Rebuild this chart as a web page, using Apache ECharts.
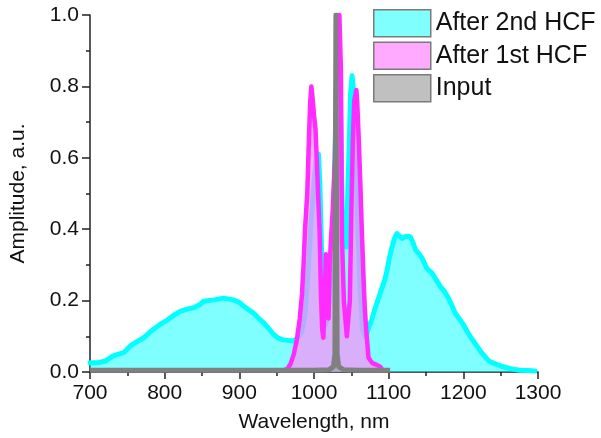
<!DOCTYPE html>
<html>
<head>
<meta charset="utf-8">
<script src="https://cdn.jsdelivr.net/npm/echarts@6/dist/echarts.min.js"></script>
<style>html,body{margin:0;padding:0;background:#fff;}#c{width:601px;height:438px;}</style>
</head>
<body>
<div id="c"></div>
<script>
// ---- data ----
const seriesNames = ['After 2nd HCF', 'After 1st HCF', 'Input'];
const xTicks = [700, 800, 900, 1000, 1100, 1200, 1300];
const yTicks = [0.0, 0.2, 0.4, 0.6, 0.8, 1.0];

const hcf2X = [700,710,720,731,745,754,763,772,785,795,804,813,821,830,839,848,852,866,879,892,900,906,912,919,926,933,940,946,952,959,966,973,978,983,988,992,996,1000,1003,1006,1008,1010,1012,1015,1018,1022,1026,1029,1032,1034,1036,1038,1041,1043,1046,1049,1051,1053,1056,1059,1062,1065,1068,1071,1073,1078,1082,1087,1091,1095,1098,1101,1104,1108,1111,1115,1118,1123,1129,1133,1136,1141,1145,1151,1158,1163,1169,1175,1180,1185,1189,1195,1200,1206,1212,1218,1223,1229,1234,1240,1245,1252,1258,1266,1276,1286,1296];
const hcf2Y = [0.026,0.026,0.030,0.045,0.054,0.073,0.085,0.096,0.120,0.135,0.146,0.160,0.170,0.176,0.180,0.190,0.198,0.202,0.207,0.202,0.195,0.184,0.175,0.165,0.150,0.137,0.120,0.105,0.095,0.090,0.088,0.087,0.095,0.110,0.160,0.280,0.420,0.530,0.600,0.610,0.520,0.350,0.200,0.130,0.150,0.250,0.400,0.700,1.000,1.000,0.700,0.420,0.380,0.350,0.550,0.780,0.830,0.780,0.600,0.400,0.220,0.120,0.100,0.110,0.123,0.150,0.180,0.210,0.235,0.260,0.286,0.320,0.346,0.375,0.388,0.380,0.374,0.380,0.379,0.360,0.342,0.330,0.318,0.290,0.277,0.260,0.240,0.225,0.207,0.185,0.165,0.148,0.133,0.110,0.091,0.073,0.058,0.043,0.031,0.025,0.021,0.016,0.012,0.008,0.005,0.004,0.003];

const hcf1X = [960,965,969,973,977,981,984,986,988,991,993,995,996.5,998,1000,1002,1004,1006,1007.6,1009.4,1011,1012.5,1014,1016,1018,1019.5,1021,1023,1025,1028,1031,1034,1036,1037.5,1040,1042,1044,1046,1048,1050,1052,1054,1056.7,1058,1060,1062,1064,1066.5,1068,1070,1073,1078,1084,1089,1092];
const hcf1Y = [0.005,0.010,0.025,0.050,0.090,0.150,0.220,0.300,0.400,0.500,0.640,0.760,0.800,0.770,0.720,0.680,0.580,0.470,0.390,0.210,0.120,0.096,0.180,0.330,0.250,0.150,0.300,0.380,0.450,0.600,0.950,1.000,0.850,0.370,0.200,0.150,0.100,0.096,0.200,0.450,0.650,0.760,0.790,0.750,0.650,0.530,0.400,0.253,0.180,0.115,0.040,0.025,0.020,0.014,0.005];

const inputX = [700,750,800,850,900,950,1000,1020,1026,1028,1029.3,1029.7,1031,1033,1040,1060,1080,1102];
const inputY = [0.005,0.005,0.005,0.005,0.005,0.005,0.005,0.006,0.015,0.05,1.0,1.0,0.05,0.015,0.006,0.005,0.005,0.005];

// ---- build ----
const zip = (xs, ys) => xs.map((x, i) => [x, ys[i]]);
const font = 'Arial, "Liberation Sans", sans-serif';

const chart = echarts.init(document.getElementById('c'), null, {renderer: 'canvas'});
chart.setOption({
  animation: false,
  backgroundColor: '#ffffff',
  grid: {left: 90, right: 63, top: 15, bottom: 64, containLabel: false},
  legend: {
    orient: 'vertical',
    left: 373, top: 9,
    padding: 0,
    itemWidth: 57, itemHeight: 27, itemGap: 4,
    textStyle: {fontSize: 25, fontFamily: font, color: '#111'},
    data: [
      {name: seriesNames[0], icon: 'rect', itemStyle: {color: '#80ffff', borderColor: '#7a7a7a', borderWidth: 1.5}},
      {name: seriesNames[1], icon: 'rect', itemStyle: {color: '#ffaaff', borderColor: '#7a7a7a', borderWidth: 1.5}},
      {name: seriesNames[2], icon: 'rect', itemStyle: {color: '#c0c0c0', borderColor: '#7a7a7a', borderWidth: 1.5}}
    ]
  },
  xAxis: {
    type: 'value', min: xTicks[0], max: xTicks[xTicks.length - 1], interval: 100,
    name: 'Wavelength, nm', nameLocation: 'middle', nameGap: 40,
    nameTextStyle: {fontSize: 21, fontFamily: font, color: '#111'},
    axisLine: {onZero: false, lineStyle: {color: '#222', width: 1.5}},
    axisTick: {length: 7, lineStyle: {color: '#222', width: 1.5}},
    minorTick: {show: true, splitNumber: 2, length: 4, lineStyle: {color: '#222', width: 1.5}},
    axisLabel: {fontSize: 21, fontFamily: font, color: '#111', margin: 11, formatter: v => String(v)},
    splitLine: {show: false}
  },
  yAxis: {
    type: 'value', min: yTicks[0], max: yTicks[yTicks.length - 1], interval: 0.2,
    name: 'Amplitude, a.u.', nameLocation: 'middle', nameGap: 61,
    nameTextStyle: {fontSize: 21, fontFamily: font, color: '#111'},
    axisLine: {show: true, lineStyle: {color: '#222', width: 1.5}},
    axisTick: {show: true, length: 8, lineStyle: {color: '#222', width: 1.5}},
    minorTick: {show: true, splitNumber: 2, length: 4, lineStyle: {color: '#222', width: 1.5}},
    axisLabel: {fontSize: 21, fontFamily: font, color: '#111', margin: 11, formatter: v => v.toFixed(1)},
    splitLine: {show: false}
  },
  series: [
    {
      name: seriesNames[0], type: 'line', data: zip(hcf2X, hcf2Y), showSymbol: false, symbol: 'none',
      lineStyle: {color: '#00ffff', width: 5, join: 'round', cap: 'round'},
      itemStyle: {color: '#80ffff'},
      areaStyle: {color: 'rgba(0,255,255,0.5)', opacity: 1, origin: 'start'},
      z: 2
    },
    {
      name: seriesNames[1], type: 'line', data: zip(hcf1X, hcf1Y), showSymbol: false, symbol: 'none',
      lineStyle: {color: '#ff2bff', width: 4.5, join: 'round', cap: 'round'},
      itemStyle: {color: '#ffaaff'},
      areaStyle: {color: 'rgba(255,140,250,0.7)', opacity: 1, origin: 'start'},
      z: 3
    },
    {
      name: seriesNames[2], type: 'line', data: zip(inputX, inputY), showSymbol: false, symbol: 'none',
      lineStyle: {color: '#808080', width: 5, join: 'round'},
      itemStyle: {color: '#c0c0c0'},
      areaStyle: {color: 'rgba(160,160,160,0.6)', opacity: 1, origin: 'start'},
      z: 4
    }
  ]
});
</script>
</body>
</html>
